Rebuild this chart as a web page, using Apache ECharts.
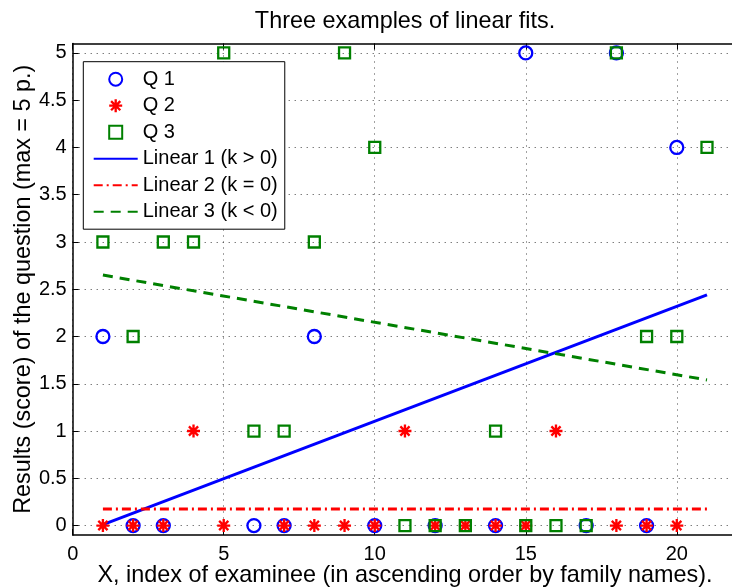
<!DOCTYPE html>
<html>
<head>
<meta charset="utf-8">
<script src="https://cdn.jsdelivr.net/npm/echarts@6/dist/echarts.min.js"></script>
<style>
  html, body { margin: 0; padding: 0; background: #fff; }
  #chart { width: 732px; height: 587px; }
</style>
</head>
<body>
<div id="chart"></div>
<script>
// ---- data ----
const examinees = [1,2,3,4,5,6,7,8,9,10,11,12,13,14,15,16,17,18,19,20,21];
const q1Scores = [2,0,0,null,null,0,0,2,null,0,null,0,null,0,5,null,0,5,0,4,null];
const q2Scores = [0,0,0,1,0,null,0,0,0,0,1,0,0,0,0,1,null,0,0,0,null];
const q3Scores = [3,2,3,3,5,1,1,3,5,4,0,0,0,1,0,0,0,5,2,2,4];

const fitX = [1, 21];
const fit1 = [0.01, 2.44];
const fit2 = [0.175, 0.175];
const fit3 = [2.65, 1.54];

const xTicks = [0, 5, 10, 15, 20];
const yTicks = [0, 0.5, 1, 1.5, 2, 2.5, 3, 3.5, 4, 4.5, 5];

const seriesNames = ['Q 1', 'Q 2', 'Q 3', 'Linear 1 (k > 0)', 'Linear 2 (k = 0)', 'Linear 3 (k < 0)'];
const titleText = 'Three examples of linear fits.';
const xName = 'X, index of examinee (in ascending order by family names).';
const yName = 'Results (score) of the question (max = 5 p.)';

// ---- helpers ----
function pairs(xs, ys) {
  const out = [];
  xs.forEach((x, i) => { if (ys[i] !== null && ys[i] !== undefined) out.push([x, ys[i]]); });
  return out;
}

// asterisk marker path (8 spokes)
function asteriskPath() {
  const c = 50, L = 50, W = 9;
  let p = '';
  [0, 45, 90, 135].forEach(a => {
    const r = a * Math.PI / 180;
    const dx = Math.cos(r), dy = Math.sin(r);
    const nx = -dy, ny = dx;
    const pts = [
      [c + L*dx + W*nx, c + L*dy + W*ny],
      [c + L*dx - W*nx, c + L*dy - W*ny],
      [c - L*dx - W*nx, c - L*dy - W*ny],
      [c - L*dx + W*nx, c - L*dy + W*ny]
    ];
    p += 'M' + pts.map(q => q[0].toFixed(2) + ' ' + q[1].toFixed(2)).join('L') + 'Z';
  });
  return 'path://' + p;
}
const squarePath = 'path://M0 0L10 0L10 10L0 10Z';

const FONT = '"Liberation Sans", Arial, Helvetica, sans-serif';
const BLUE = '#0000ff', RED = '#ff0000', GREEN = '#008000';
const gridDots = { color: '#444', width: 1, type: [1, 5] };
const hideDot = { color: 'rgba(0,0,0,0)', borderWidth: 0, opacity: 0 };

const chart = echarts.init(document.getElementById('chart'), null, { renderer: 'canvas' });

const option = {
  backgroundColor: '#fff',
  animation: false,
  textStyle: { fontFamily: FONT },
  graphic: [{
    type: 'text',
    x: 405, y: 21.5,
    style: {
      text: titleText, fontSize: 23.4, fontFamily: FONT, fill: '#000',
      align: 'center', verticalAlign: 'middle'
    },
    z: 10
  }],
  grid: { left: 72.7, top: 43.5, width: 664.5, height: 491.5, containLabel: false, outerBoundsMode: 'none' },
  xAxis: [{
    type: 'value', min: 0, max: 22, interval: 5, position: 'bottom',
    name: xName, nameLocation: 'middle', nameGap: 29, nameMoveOverlap: false,
    nameTextStyle: { fontSize: 23.4, color: '#000', fontFamily: FONT },
    axisLine: { show: true, onZero: false, lineStyle: { color: '#000', width: 1.5 } },
    axisTick: { show: true, inside: true, length: 6, lineStyle: { color: '#000', width: 1 }, customValues: xTicks },
    axisLabel: { show: true, fontSize: 20, color: '#000', margin: 9, fontFamily: FONT, customValues: xTicks },
    splitLine: { show: true, lineStyle: gridDots }
  }, {
    type: 'value', min: 0, max: 22, interval: 5, position: 'top',
    axisLine: { show: true, onZero: false, lineStyle: { color: '#000', width: 1.5 } },
    axisTick: { show: true, inside: true, length: 6, lineStyle: { color: '#000', width: 1 }, customValues: xTicks },
    axisLabel: { show: false },
    splitLine: { show: false }
  }],
  yAxis: [{
    type: 'value', min: -0.1, max: 5.1, position: 'left',
    name: yName, nameLocation: 'middle', nameGap: 38, nameRotate: 90, nameMoveOverlap: false,
    nameTextStyle: { fontSize: 23.4, color: '#000', fontFamily: FONT },
    axisLine: { show: true, onZero: false, lineStyle: { color: '#000', width: 1.5 } },
    axisTick: { show: true, inside: true, length: 6, lineStyle: { color: '#000', width: 1 }, customValues: yTicks },
    axisLabel: { show: true, fontSize: 20, color: '#000', margin: 6, fontFamily: FONT, customValues: yTicks },
    splitLine: { show: true, lineStyle: gridDots }
  }],
  legend: {
    orient: 'vertical',
    left: 83.3, top: 61.7,
    padding: [7.5, 7, 7.5, 9.4],
    itemGap: 6.5,
    itemWidth: 44, itemHeight: 13,
    symbolKeepAspect: true,
    backgroundColor: '#fff',
    borderColor: '#000', borderWidth: 1, borderRadius: 0,
    textStyle: { fontSize: 20, color: '#000', fontFamily: FONT },
    data: [
      { name: seriesNames[0] },
      { name: seriesNames[1] },
      { name: seriesNames[2] },
      { name: seriesNames[3], itemStyle: hideDot },
      { name: seriesNames[4], itemStyle: hideDot },
      { name: seriesNames[5], itemStyle: hideDot }
    ],
    selectedMode: false
  },
  series: [
    {
      name: seriesNames[0], type: 'scatter', data: pairs(examinees, q1Scores),
      symbol: 'circle', symbolSize: 13, symbolKeepAspect: true,
      itemStyle: { color: 'rgba(0,0,0,0)', borderColor: BLUE, borderWidth: 2.3, opacity: 1 },
      z: 3, clip: false
    },
    {
      name: seriesNames[1], type: 'scatter', data: pairs(examinees, q2Scores),
      symbol: asteriskPath(), symbolSize: 13, symbolKeepAspect: true,
      itemStyle: { color: RED, borderWidth: 0, opacity: 1 },
      z: 4, clip: false
    },
    {
      name: seriesNames[2], type: 'scatter', data: pairs(examinees, q3Scores),
      symbol: squarePath, symbolSize: 11, symbolKeepAspect: true,
      itemStyle: { color: 'rgba(0,0,0,0)', borderColor: GREEN, borderWidth: 2.3, opacity: 1 },
      z: 5, clip: false
    },
    {
      name: seriesNames[3], type: 'line', data: pairs(fitX, fit1),
      symbol: 'none', showSymbol: false,
      lineStyle: { color: BLUE, width: 3, type: 'solid' },
      itemStyle: { color: BLUE },
      z: 2
    },
    {
      name: seriesNames[4], type: 'line', data: pairs(fitX, fit2),
      symbol: 'none', showSymbol: false,
      lineStyle: { color: RED, width: 3, type: [9, 4, 2, 4] },
      itemStyle: { color: RED },
      z: 2
    },
    {
      name: seriesNames[5], type: 'line', data: pairs(fitX, fit3),
      symbol: 'none', showSymbol: false,
      lineStyle: { color: GREEN, width: 3, type: [10, 7] },
      itemStyle: { color: GREEN },
      z: 2
    }
  ]
};

chart.setOption(option);
</script>
</body>
</html>
